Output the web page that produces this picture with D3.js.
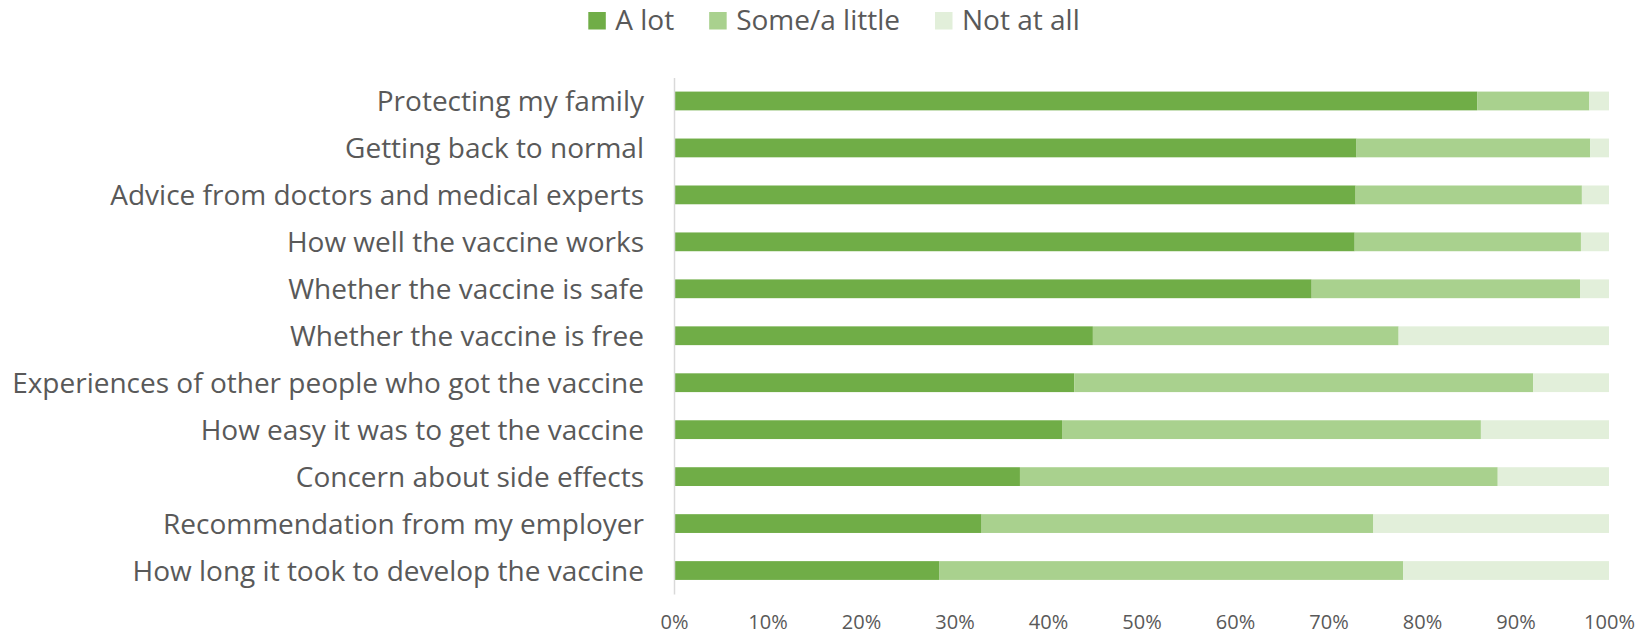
<!DOCTYPE html>
<html>
<head>
<meta charset="utf-8">
<script src="https://cdn.jsdelivr.net/npm/d3@7"></script>
<style>
  html, body { margin: 0; padding: 0; background: #fff; }
  svg { display: block; }
  text { font-family: "Open Sans", sans-serif; fill: #595959; }
</style>
</head>
<body>
<svg id="chart" width="1649" height="635"></svg>
<script>
const categories = [
  "Protecting my family",
  "Getting back to normal",
  "Advice from doctors and medical experts",
  "How well the vaccine works",
  "Whether the vaccine is safe",
  "Whether the vaccine is free",
  "Experiences of other people who got the vaccine",
  "How easy it was to get the vaccine",
  "Concern about side effects",
  "Recommendation from my employer",
  "How long it took to develop the vaccine"
];
const seriesNames = ["A lot", "Some/a little", "Not at all"];
const aLot     = [85.9, 73.0, 72.9, 72.8, 68.2, 44.8, 42.8, 41.5, 37.0, 32.9, 28.4];
const some     = [12.0, 25.0, 24.2, 24.2, 28.7, 32.7, 49.1, 44.8, 51.1, 41.9, 49.6];
const notAtAll = [2.1, 2.0, 2.9, 3.0, 3.1, 22.5, 8.1, 13.7, 11.9, 25.2, 22.0];
const xTicks = [0, 10, 20, 30, 40, 50, 60, 70, 80, 90, 100];
const colors = ["#70ad47", "#a9d18e", "#e2efda"];

const rows = categories.map((c, i) => ({
  cat: c, "A lot": aLot[i], "Some/a little": some[i], "Not at all": notAtAll[i]
}));

const svg = d3.select("#chart");
const x = d3.scaleLinear().domain([0, 100]).range([674, 1609]);
const y = d3.scaleBand().domain(categories).range([77.5, 594]).paddingInner(0.6).paddingOuter(0.3);
const color = d3.scaleOrdinal().domain(seriesNames).range(colors);

const stacked = d3.stack().keys(seriesNames)(rows);

svg.append("g").selectAll("g")
  .data(stacked).join("g")
  .attr("fill", d => color(d.key))
  .selectAll("rect")
  .data(d => d).join("rect")
  .attr("x", d => x(d[0]))
  .attr("width", d => x(d[1]) - x(d[0]))
  .attr("y", d => y(d.data.cat))
  .attr("height", y.bandwidth());

// category axis
const yAxis = svg.append("g")
  .attr("transform", "translate(674,0)")
  .call(d3.axisLeft(y).tickSize(0).tickSizeOuter(0).tickPadding(30));
yAxis.select(".domain").attr("stroke", "#d9d9d9").attr("stroke-width", 1.5);
yAxis.selectAll("text")
  .attr("font-size", 28)
  .attr("dy", "0.36em")
  .attr("font-family", "'Open Sans', sans-serif")
  .attr("fill", "#595959");

// value axis
const xAxis = svg.append("g")
  .attr("transform", "translate(0,594)")
  .call(d3.axisBottom(x).tickValues(xTicks).tickFormat(d => d + "%").tickSize(0));
xAxis.select(".domain").remove();
xAxis.selectAll("text")
  .attr("y", 35).attr("dy", null)
  .attr("font-size", 20)
  .attr("font-family", "'Open Sans', sans-serif")
  .attr("fill", "#595959");

// legend
const legend = svg.append("g");
const items = legend.selectAll("g").data(seriesNames).join("g");
items.append("rect")
  .attr("width", 17.5).attr("height", 17.5)
  .attr("y", 12)
  .attr("fill", d => color(d));
items.append("text")
  .attr("x", 27).attr("y", 29.5)
  .attr("font-size", 28)
  .text(d => d);
let cx = 0;
items.each(function() {
  const g = d3.select(this);
  g.attr("transform", `translate(${cx},0)`);
  const w = g.select("text").node().getComputedTextLength();
  cx += 27 + w + 35;
});
const total = cx - 35;
legend.attr("transform", `translate(${834 - total / 2},0)`);
</script>
</body>
</html>
